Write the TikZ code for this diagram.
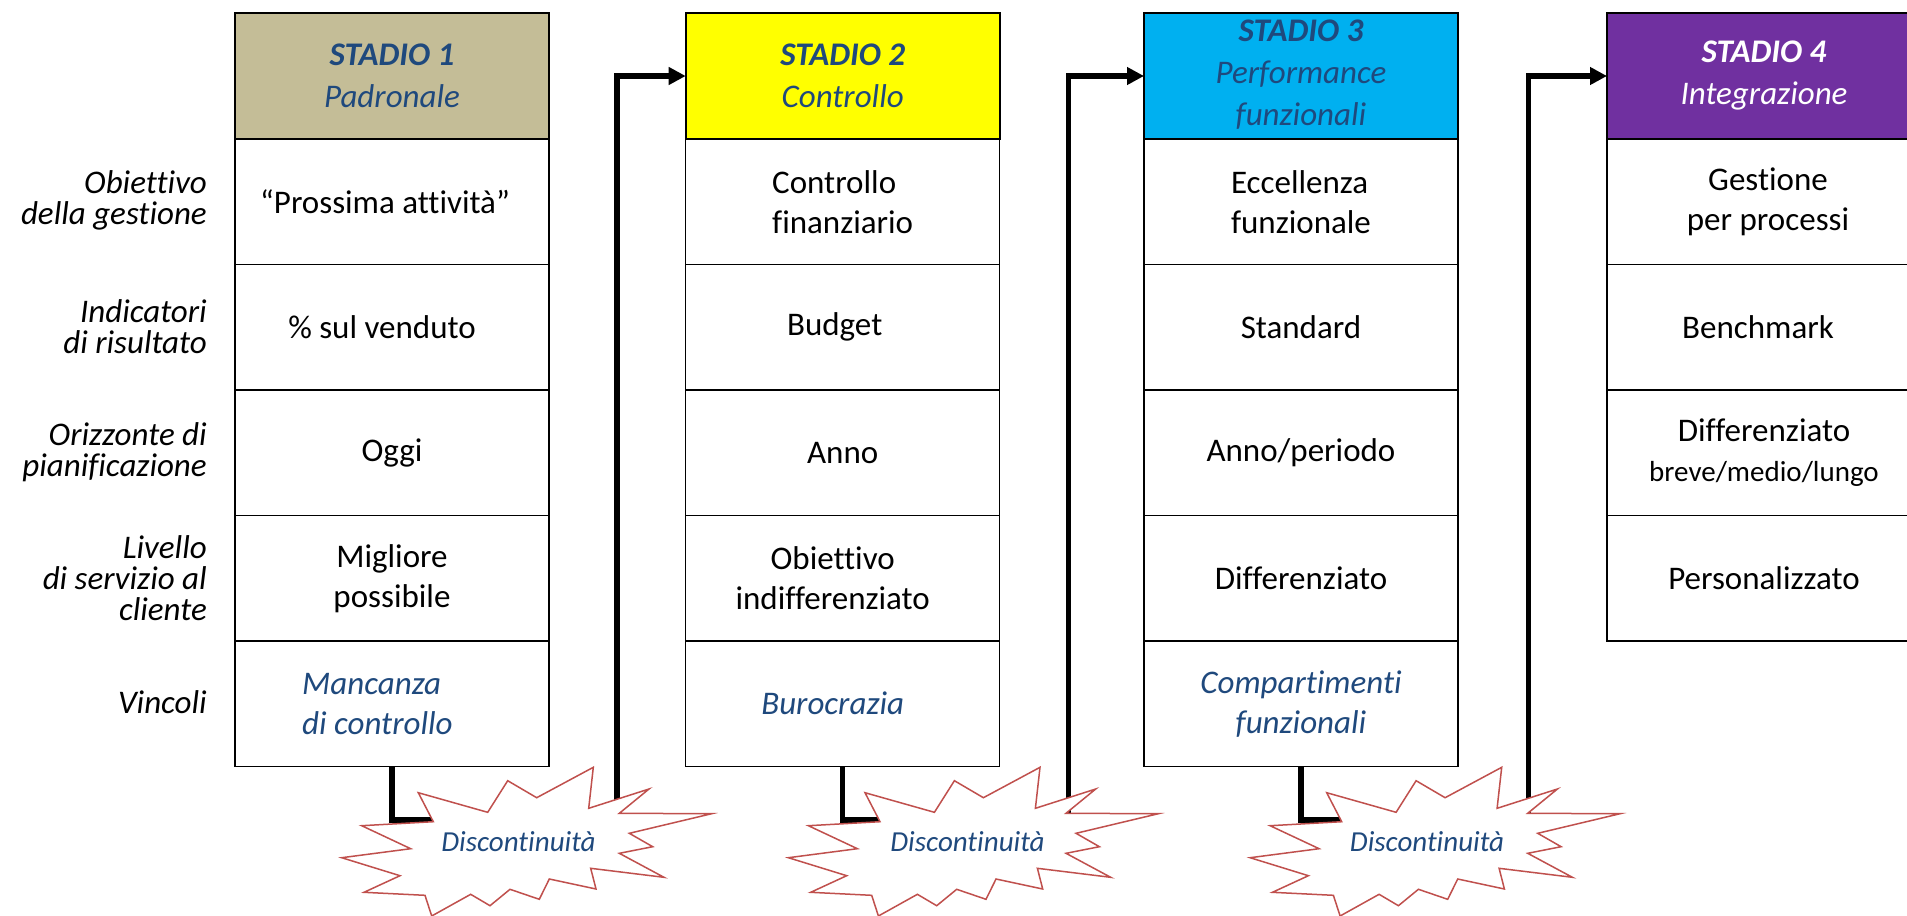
\documentclass[tikz,border=0pt]{standalone}
\usepackage{fontspec}
\setmainfont{Carlito}[Ligatures={NoCommon,NoContextual},RawFeature={-liga;-clig;-dlig}]
\usetikzlibrary{arrows.meta}
\definecolor{tanh}{HTML}{C4BD97}
\definecolor{yelh}{HTML}{FFFF00}
\definecolor{cyah}{HTML}{00B0F0}
\definecolor{purh}{HTML}{7030A0}
\definecolor{dblue}{HTML}{1F497D}
\definecolor{bred}{HTML}{C0504D}
\begin{document}
\begin{tikzpicture}[x=1pt,y=-1pt,
  cellbox/.style={draw=black, line width=1.5pt, minimum width=314pt, minimum height=125.5pt, inner sep=0pt, outer sep=0pt},
  hdrbox/.style={cellbox, minimum height=126pt, line width=1.8pt},
  celltxt/.style={font=\fontsize{33}{40}\selectfont, align=center, inner sep=0pt},
  vtxt/.style={celltxt, font=\fontsize{33}{40}\selectfont\itshape, text=dblue},
  hdrtxt/.style={celltxt, font=\fontsize{33}{42}\selectfont\itshape, text=dblue},
  lab/.style={font=\fontsize{33}{31}\selectfont\itshape, align=right, anchor=east, inner sep=0pt},
  conn/.style={line width=5.5pt, draw=black},
  arr/.style={conn, -{Triangle[length=17pt,width=17pt]}},
  burstshape/.style={draw=bred, fill=white, line width=1.5pt, line join=miter},
  disc/.style={font=\fontsize{29}{34}\selectfont\itshape, text=dblue, inner sep=0pt}
]
\clip (0,0) rectangle (1907,916);
\fill[white] (0,0) rectangle (1907,916);

% headers
\node[hdrbox, fill=tanh] (h1) at (392,76) {};
\node[hdrbox, fill=yelh] (h2) at (842.7,76) {};
\node[hdrbox, fill=cyah] (h3) at (1301,76) {};
\node[hdrbox, fill=purh] (h4) at (1764,76) {};

% cells
\foreach \s/\x in {1/392,2/842.7,3/1301}{
  \foreach \r/\y in {1/201.75,2/327.25,3/452.75,4/578.25,5/703.75}{
    \node[cellbox] (c\s\r) at (\x,\y) {};
  }
}
\foreach \r/\y in {1/201.75,2/327.25,3/452.75,4/578.25}{
  \node[cellbox] (c4\r) at (1764,\y) {};
}

% header texts
\node[hdrtxt] (ht1) at (h1.center) {\textbf{STADIO 1}\\Padronale};
\node[hdrtxt] (ht2) at (h2.center) {\textbf{STADIO 2}\\Controllo};
\node[hdrtxt] (ht3) at ([yshift=1pt]h3.center) {\textbf{STADIO 3}\\Performance\\funzionali};
\node[hdrtxt, text=white] (ht4) at (h4.center) {\textbf{STADIO 4}\\Integrazione};

% left labels
\node[lab] (l1) at (207,200) {Obiettivo\\della gestione};
\node[lab] (l2) at (207,327) {Indicatori\\di risultato};
\node[lab] (l3) at (207,452) {Orizzonte di\\pianificazione};
\node[lab] (l4) at (207,578) {Livello\\di servizio al\\cliente};
\node[lab] (l5) at (207,702) {Vincoli};

% stage 1 texts
\node[celltxt, xshift=-7pt] (t11) at (c11.center) {“Prossima attività”};
\node[celltxt, xshift=-10pt] (t12) at (c12.center) {\% sul venduto};
\node[celltxt] (t13) at (c13.center) {Oggi};
\node[celltxt] (t14) at (c14.center) {Migliore\\possibile};
\node[vtxt, align=left, anchor=west] (t15) at (302,703.75) {Mancanza\\di controllo};

% stage 2 texts
\node[celltxt, align=left] (t21) at (c21.center) {Controllo\\finanziario};
\node[celltxt, xshift=-8pt] (t22) at (c22.center) {Budget};
\node[celltxt] (t23) at (c23.center) {Anno};
\node[celltxt, xshift=-10pt] (t24) at (c24.center) {Obiettivo\\indifferenziato};
\node[vtxt, xshift=-10pt] (t25) at (c25.center) {Burocrazia};

% stage 3 texts
\node[celltxt, align=left] (t31) at (c31.center) {Eccellenza\\funzionale};
\node[celltxt] (t32) at (c32.center) {Standard};
\node[celltxt] (t33) at (c33.center) {Anno/periodo};
\node[celltxt] (t34) at (c34.center) {Differenziato};
\node[vtxt] (t35) at (c35.center) {Compartimenti\\funzionali};

% stage 4 texts
\node[celltxt, xshift=4pt] (t41) at (c41.center) {Gestione\\per processi};
\node[celltxt, xshift=-6pt] (t42) at (c42.center) {Benchmark};
\node[celltxt] (t43) at (c43.center) {Differenziato\\{\fontsize{29}{34}\selectfont breve/medio/lungo}};
\node[celltxt] (t44) at (c44.center) {Personalizzato};

% connectors
\coordinate (e1) at (445,820);
\coordinate (e2) at (892,820);
\coordinate (e3) at (1354,820);
\coordinate (u1) at (617,830);
\coordinate (u2) at (1068.7,830);
\coordinate (u3) at (1528.7,830);
\draw[conn] (c15.south) |- (e1);
\draw[conn] (c25.south) |- (e2);
\draw[conn] (c35.south) |- (e3);
\draw[arr] (u1) |- (h2.west);
\draw[arr] (u2) |- (h3.west);
\draw[arr] (u3) |- (h4.west);

% bursts
\foreach \bx in {418.3,865,1326.7}{
  \draw[burstshape, shift={(\bx,792.7)}]
    (0,0) -- (69.4,19.6) -- (89.4,-12) -- (118.4,5) -- (175,-25.4) -- (170.4,15.6)
    -- (230.7,-3.7) -- (201,20.6) -- (293.4,21) -- (211,40.6) -- (234.4,54)
    -- (201,60.6) -- (245.7,84.6) -- (172.4,75.6) -- (177.7,96.3) -- (131,86.3)
    -- (121,106.6) -- (91.7,96.6) -- (71.7,113) -- (52.4,101.6) -- (13.4,123.3)
    -- (6.7,102.6) -- (-54.3,99.6) -- (-18.3,83) -- (-76.6,65) -- (-7.6,56)
    -- (-56.6,33) -- (15,29) -- cycle;
}
\node[disc] (d1) at (518.5,842) {Discontinuità};
\node[disc] (d2) at (967.5,842) {Discontinuità};
\node[disc] (d3) at (1427,842) {Discontinuità};
\end{tikzpicture}
\end{document}
